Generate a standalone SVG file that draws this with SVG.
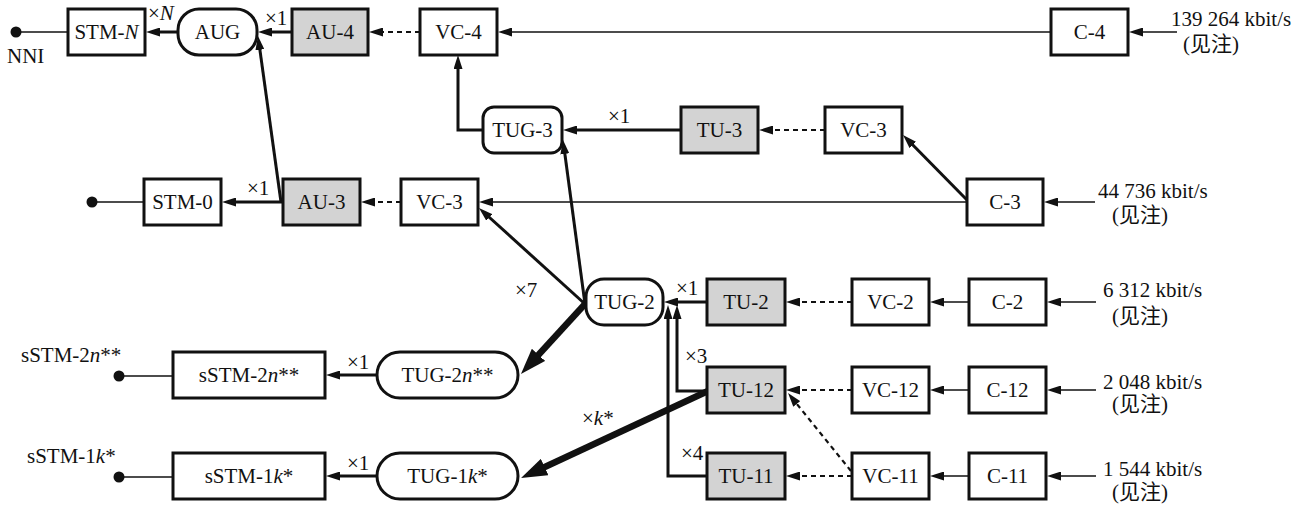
<svg xmlns="http://www.w3.org/2000/svg" width="1307" height="512" viewBox="0 0 1307 512">
  <style>
    text { font-family: "Liberation Serif", "Noto Sans CJK SC", serif; font-size: 21px; fill: #111; }
    .c { text-anchor: middle; }
    .box { fill: #fff; stroke: #111; stroke-width: 3; }
    .tu { fill: #d3d3d3; stroke: #111; stroke-width: 3; }
    .thin { fill: none; stroke: #111; stroke-width: 1.3; }
    .mid { fill: none; stroke: #111; stroke-width: 3; }
    .fat { fill: none; stroke: #111; stroke-width: 6.5; }
    .dash { fill: none; stroke: #111; stroke-width: 2.2; stroke-dasharray: 5 4; }
    .ah { marker-end: url(#ah); }
    .big { marker-end: url(#big); }
    .dot { fill: #111; }
  </style>
  <defs>
    <marker id="ah" viewBox="0 0 14 9" refX="8" refY="4.5" markerWidth="14" markerHeight="9" markerUnits="userSpaceOnUse" orient="auto">
      <path d="M0,0 L14,4.5 L0,9 z" fill="#111"/>
    </marker>
    <marker id="big" viewBox="0 0 26 18" refX="4" refY="9" markerWidth="26" markerHeight="18" markerUnits="userSpaceOnUse" orient="auto">
      <path d="M0,0 L26,9 L0,18 z" fill="#111"/>
    </marker>
  </defs>

  <!-- connectors -->
  <g id="connectors">
    <!-- top row -->
    <line class="thin" x1="16" y1="32" x2="68" y2="32"/>
    <line class="mid ah" x1="178" y1="32" x2="152" y2="32"/>
    <line class="mid ah" x1="292" y1="32" x2="264" y2="32"/>
    <line class="dash ah" x1="420" y1="32" x2="375" y2="32"/>
    <line class="thin ah" x1="1051" y1="32" x2="504" y2="32"/>
    <line class="thin ah" x1="1177" y1="32" x2="1135" y2="32"/>
    <!-- AU-3 up to AUG -->
    <line class="mid ah" x1="281" y1="202" x2="258.8" y2="41.9"/>
    <!-- TUG-3 to VC-4 -->
    <polyline class="mid ah" points="483,130 458,130 458,61"/>
    <line class="mid ah" x1="681" y1="130" x2="569" y2="130"/>
    <line class="dash ah" x1="825" y1="130" x2="765" y2="130"/>
    <line class="mid ah" x1="967" y1="200" x2="907.2" y2="139.3"/>
    <!-- STM-0 row -->
    <line class="thin ah" x1="967" y1="202" x2="485" y2="202"/>
    <line class="thin ah" x1="1095" y1="202" x2="1050" y2="202"/>
    <line class="dash ah" x1="401" y1="202" x2="367" y2="202"/>
    <line class="mid ah" x1="283" y1="202" x2="228" y2="202"/>
    <line class="thin" x1="92" y1="202" x2="144" y2="202"/>
    <!-- TUG-2 fan-out -->
    <line class="mid ah" x1="585" y1="304" x2="483.4" y2="212"/>
    <line class="mid ah" x1="585" y1="304" x2="563.8" y2="146"/>
    <line class="fat big" x1="585" y1="304" x2="535.8" y2="357.8"/>
    <!-- into TUG-2 -->
    <line class="mid ah" x1="707" y1="302" x2="670" y2="302"/>
    <polyline class="mid ah" points="707,391 677,391 677,311"/>
    <polyline class="mid ah" points="707,476 668,476 668,311"/>
    <!-- TU-12 to TUG-1k* -->
    <line class="fat big" x1="708" y1="391" x2="541" y2="468.7"/>
    <!-- VC to TU -->
    <line class="dash ah" x1="852" y1="302" x2="792" y2="302"/>
    <line class="dash ah" x1="852" y1="390" x2="792" y2="390"/>
    <line class="dash ah" x1="851" y1="471" x2="791.8" y2="397.7"/>
    <line class="dash ah" x1="852" y1="476" x2="792" y2="476"/>
    <!-- C to VC -->
    <line class="thin ah" x1="969" y1="302" x2="936" y2="302"/>
    <line class="thin ah" x1="969" y1="390" x2="936" y2="390"/>
    <line class="thin ah" x1="969" y1="476" x2="936" y2="476"/>
    <!-- tributary inputs -->
    <line class="thin ah" x1="1096" y1="302" x2="1053" y2="302"/>
    <line class="thin ah" x1="1096" y1="390" x2="1053" y2="390"/>
    <line class="thin ah" x1="1096" y1="476" x2="1053" y2="476"/>
    <!-- sub-STM rows -->
    <line class="mid ah" x1="377" y1="375" x2="332" y2="375"/>
    <line class="mid ah" x1="377" y1="476" x2="332" y2="476"/>
    <line class="thin" x1="119" y1="376" x2="173" y2="376"/>
    <line class="thin" x1="119" y1="477" x2="173" y2="477"/>
    <!-- interface points -->
    <circle class="dot" cx="16" cy="32" r="5.5"/>
    <circle class="dot" cx="92" cy="202" r="5.5"/>
    <circle class="dot" cx="119" cy="376" r="5.5"/>
    <circle class="dot" cx="119" cy="477" r="5.5"/>
  </g>

  <!-- multiplexing labels -->
  <g id="labels">
    <text x="7" y="63">NNI</text>
    <text x="148" y="20">×<tspan font-style="italic">N</tspan></text>
    <text x="265" y="25">×1</text>
    <text x="608" y="123">×1</text>
    <text x="247" y="195">×1</text>
    <text x="515" y="297">×7</text>
    <text x="676" y="295">×1</text>
    <text x="685" y="363">×3</text>
    <text x="681" y="460">×4</text>
    <text x="582" y="425">×<tspan font-style="italic">k</tspan>*</text>
    <text x="347" y="369">×1</text>
    <text x="347" y="470">×1</text>
    <text x="21" y="362">sSTM-2<tspan font-style="italic">n</tspan>**</text>
    <text x="27" y="463">sSTM-1<tspan font-style="italic">k</tspan>*</text>
    <text x="1171" y="26">139 264 kbit/s</text>
    <text x="1183" y="51">(见注)</text>
    <text x="1098" y="198">44 736 kbit/s</text>
    <text x="1112" y="222">(见注)</text>
    <text x="1103" y="297">6 312 kbit/s</text>
    <text x="1112" y="323">(见注)</text>
    <text x="1103" y="389">2 048 kbit/s</text>
    <text x="1112" y="411">(见注)</text>
    <text x="1103" y="476">1 544 kbit/s</text>
    <text x="1112" y="499">(见注)</text>
  </g>

  <!-- nodes -->
  <g id="stm-n"><rect class="box" x="68" y="9" width="77" height="46"/><text class="c" x="106.5" y="39">STM-<tspan font-style="italic">N</tspan></text></g>
  <g id="aug"><rect class="box" x="178" y="9" width="79" height="46" rx="21"/><text class="c" x="217.5" y="39">AUG</text></g>
  <g id="au-4"><rect class="tu" x="292" y="9" width="76" height="46"/><text class="c" x="330" y="39">AU-4</text></g>
  <g id="vc-4"><rect class="box" x="420" y="9" width="77" height="46"/><text class="c" x="458.5" y="39">VC-4</text></g>
  <g id="c-4"><rect class="box" x="1051" y="9" width="77" height="46"/><text class="c" x="1089.5" y="39">C-4</text></g>

  <g id="tug-3"><rect class="box" x="483" y="107" width="79" height="46" rx="11"/><text class="c" x="522.5" y="137">TUG-3</text></g>
  <g id="tu-3"><rect class="tu" x="681" y="107" width="77" height="46"/><text class="c" x="719.5" y="137">TU-3</text></g>
  <g id="vc-3-tu"><rect class="box" x="825" y="107" width="77" height="46"/><text class="c" x="863.5" y="137">VC-3</text></g>

  <g id="stm-0"><rect class="box" x="144" y="179" width="77" height="46"/><text class="c" x="182.5" y="209">STM-0</text></g>
  <g id="au-3"><rect class="tu" x="283" y="179" width="77" height="46"/><text class="c" x="321.5" y="209">AU-3</text></g>
  <g id="vc-3-au"><rect class="box" x="401" y="179" width="77" height="46"/><text class="c" x="439.5" y="209">VC-3</text></g>
  <g id="c-3"><rect class="box" x="967" y="179" width="76" height="46"/><text class="c" x="1005" y="209">C-3</text></g>

  <g id="tug-2"><rect class="box" x="586" y="279" width="77" height="46" rx="18"/><text class="c" x="624.5" y="309">TUG-2</text></g>
  <g id="tu-2"><rect class="tu" x="707" y="279" width="78" height="46"/><text class="c" x="746" y="309">TU-2</text></g>
  <g id="vc-2"><rect class="box" x="852" y="279" width="77" height="46"/><text class="c" x="890.5" y="309">VC-2</text></g>
  <g id="c-2"><rect class="box" x="969" y="279" width="77" height="46"/><text class="c" x="1007.5" y="309">C-2</text></g>

  <g id="tu-12"><rect class="tu" x="707" y="367" width="78" height="46"/><text class="c" x="746" y="397">TU-12</text></g>
  <g id="vc-12"><rect class="box" x="852" y="367" width="77" height="46"/><text class="c" x="890.5" y="397">VC-12</text></g>
  <g id="c-12"><rect class="box" x="969" y="367" width="77" height="46"/><text class="c" x="1007.5" y="397">C-12</text></g>

  <g id="tu-11"><rect class="tu" x="707" y="453" width="78" height="46"/><text class="c" x="746" y="483">TU-11</text></g>
  <g id="vc-11"><rect class="box" x="852" y="453" width="77" height="46"/><text class="c" x="890.5" y="483">VC-11</text></g>
  <g id="c-11"><rect class="box" x="969" y="453" width="77" height="46"/><text class="c" x="1007.5" y="483">C-11</text></g>

  <g id="sstm-2n"><rect class="box" x="173" y="352" width="152" height="46"/><text class="c" x="249" y="382">sSTM-2<tspan font-style="italic">n</tspan>**</text></g>
  <g id="tug-2n"><rect class="box" x="377" y="352" width="141" height="46" rx="23"/><text class="c" x="447.5" y="382">TUG-2<tspan font-style="italic">n</tspan>**</text></g>
  <g id="sstm-1k"><rect class="box" x="173" y="453" width="152" height="46"/><text class="c" x="249" y="483">sSTM-1<tspan font-style="italic">k</tspan>*</text></g>
  <g id="tug-1k"><rect class="box" x="377" y="453" width="141" height="46" rx="23"/><text class="c" x="447.5" y="483">TUG-1<tspan font-style="italic">k</tspan>*</text></g>
</svg>
